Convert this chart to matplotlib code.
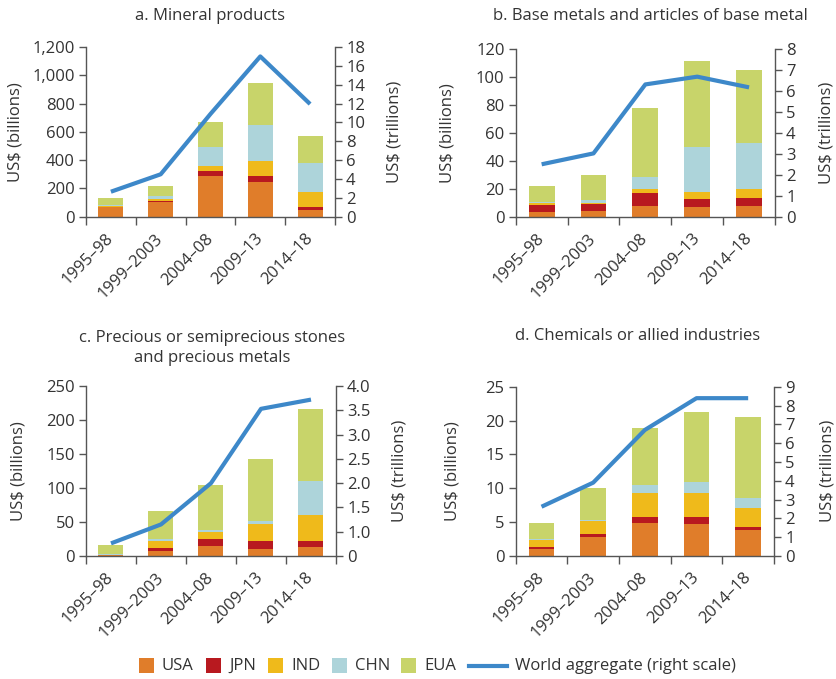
import matplotlib
matplotlib.use("Agg")
import matplotlib.pyplot as plt
from matplotlib.patches import Rectangle
from matplotlib.lines import Line2D
from matplotlib.ticker import FuncFormatter, FixedLocator, FixedFormatter
import numpy as np

plt.rcParams["font.family"] = ["Open Sans", "DejaVu Sans"]
TEXT = "#333333"
SPINE = "#555555"
FS = 12

periods = ["1995–98", "1999–2003", "2004–08", "2009–13", "2014–18"]
economies = ["USA", "JPN", "IND", "CHN", "EUA"]
colors = ["#E07D2A", "#B8191F", "#EFBA1B", "#ADD4DA", "#C8D46A"]
world_color = "#3D88C9"

# a. Mineral products (US$ billions; world in US$ trillions)
mineral_usa = [68, 101, 288, 245, 47]
mineral_jpn = [2, 7, 35, 43, 21]
mineral_ind = [6, 17, 38, 106, 106]
mineral_chn = [4, 24, 132, 254, 206]
mineral_eua = [52, 68, 177, 297, 190]
mineral_world = [2.65, 4.5, 10.9, 17.0, 11.95]

# b. Base metals and articles of base metal
metals_usa = [3.3, 4.1, 7.6, 6.9, 7.6]
metals_jpn = [5.0, 5.0, 9.3, 5.7, 5.8]
metals_ind = [1.2, 0.7, 2.9, 5.1, 6.4]
metals_chn = [1.2, 2.4, 8.6, 32.4, 32.9]
metals_eua = [11.3, 17.6, 49.4, 61.3, 52.3]
metals_world = [2.5, 3.02, 6.31, 6.68, 6.17]

# c. Precious or semiprecious stones and precious metals
stones_usa = [0.8, 7.4, 14.7, 10.3, 13.2]
stones_jpn = [0.3, 4.4, 10.3, 11.7, 8.8]
stones_ind = [0.6, 10.2, 10.3, 25.0, 38.3]
stones_chn = [1.3, 3.0, 2.9, 4.5, 49.5]
stones_eua = [13.2, 41.2, 66.2, 91.1, 106.4]
stones_world = [0.76, 1.15, 2.0, 3.53, 3.72]

# d. Chemicals or allied industries
chem_usa = [1.03, 2.8, 4.87, 4.72, 3.84]
chem_jpn = [0.3, 0.45, 0.89, 1.04, 0.44]
chem_ind = [1.08, 1.95, 3.54, 3.54, 2.81]
chem_chn = [0.1, 0.16, 1.18, 1.63, 1.47]
chem_eua = [2.37, 4.68, 8.42, 10.33, 11.96]
chem_world = [2.62, 3.9, 6.7, 8.39, 8.39]

W, H = 837, 679
fig = plt.figure(figsize=(W / 100, H / 100), dpi=100)


def px_rect(left, top, right, bottom):
    return [left / W, 1 - bottom / H, (right - left) / W, (bottom - top) / H]


def panel(rect, stacks, world, ylim, yticks, rlim, rticks, rlabels=None, comma=False):
    ax = fig.add_axes(rect)
    x = np.arange(len(periods))
    bottom = np.zeros(len(periods))
    for vals, c in zip(stacks, colors):
        vals = np.asarray(vals, dtype=float)
        ax.bar(x, vals, width=0.5, bottom=bottom, color=c, linewidth=0, zorder=2)
        bottom += vals
    ax.set_xlim(-0.5, len(periods) - 0.5)
    ax.set_ylim(*ylim)
    ax.set_yticks(yticks)
    if comma:
        ax.yaxis.set_major_formatter(FuncFormatter(lambda v, p: f"{int(v):,}"))
    ax.set_xticks(x)
    ax.set_xticklabels(periods, rotation=45, ha="right", va="center",
                       rotation_mode="anchor", fontsize=FS, color=TEXT)
    ax.tick_params(axis="x", which="major", length=0, pad=14)
    ax.set_xticks(np.arange(-0.5, len(periods)), minor=True)
    ax.tick_params(axis="x", which="minor", length=6, width=1, color=SPINE, direction="out")
    ax.tick_params(axis="y", length=5, width=1, color=SPINE, labelsize=FS,
                   labelcolor=TEXT, pad=3)
    for s in ["top", "right"]:
        ax.spines[s].set_visible(False)
    for s in ["left", "bottom"]:
        ax.spines[s].set_color(SPINE)
        ax.spines[s].set_linewidth(1)

    ax2 = ax.twinx()
    ax2.plot(x, world, color=world_color, lw=3, solid_capstyle="butt", zorder=3)
    ax2.set_ylim(*rlim)
    ax2.yaxis.set_major_locator(FixedLocator(rticks))
    if rlabels is not None:
        ax2.yaxis.set_major_formatter(FixedFormatter(rlabels))
    ax2.tick_params(axis="y", length=5, width=1, color=SPINE, labelsize=FS,
                    labelcolor=TEXT, pad=3)
    for s in ["top", "left", "bottom"]:
        ax2.spines[s].set_visible(False)
    ax2.spines["right"].set_color(SPINE)
    ax2.spines["right"].set_linewidth(1)
    return ax, ax2


panel(px_rect(86, 47, 335, 216.7),
      [mineral_usa, mineral_jpn, mineral_ind, mineral_chn, mineral_eua], mineral_world,
      (0, 1200), range(0, 1201, 200), (0, 18), range(0, 19, 2), comma=True)
panel(px_rect(515.7, 49, 775, 216.7),
      [metals_usa, metals_jpn, metals_ind, metals_chn, metals_eua], metals_world,
      (0, 120), range(0, 121, 20), (0, 8), range(0, 9, 1))
panel(px_rect(86, 386, 336, 556),
      [stones_usa, stones_jpn, stones_ind, stones_chn, stones_eua], stones_world,
      (0, 250), range(0, 251, 50), (0.5, 4.0), list(np.arange(0.5, 4.01, 0.5)),
      rlabels=["0", "1.0", "1.5", "2.0", "2.5", "3.0", "3.5", "4.0"])
panel(px_rect(515.7, 386.7, 774, 556),
      [chem_usa, chem_jpn, chem_ind, chem_chn, chem_eua], chem_world,
      (0, 25), range(0, 26, 5), (0, 9), range(0, 10, 1))

# Panel titles
def ftext(xp, yp, s, **kw):
    fig.text(xp / W, 1 - yp / H, s, color=TEXT, fontsize=FS, ha="center", va="center", **kw)

ftext(210, 16, "a. Mineral products")
ftext(650, 16, "b. Base metals and articles of base metal")
ftext(212, 348, "c. Precious or semiprecious stones\nand precious metals", linespacing=1.35)
ftext(638, 336, "d. Chemicals or allied industries")

# Axis titles
for xl, xr, yc in [(16, 395, 132), (448, 827, 133), (19, 400, 471), (453, 828, 471)]:
    ftext(xl, yc, "US$ (billions)", rotation=90)
    ftext(xr, yc, "US$ (trillions)", rotation=90)

# Legend
patch_x = [139, 206, 268, 332, 401]
for px0, name, c in zip(patch_x, economies, colors):
    fig.add_artist(Rectangle((px0 / W, 1 - 673 / H), 15 / W, 15 / H,
                             transform=fig.transFigure, color=c, lw=0))
    fig.text((px0 + 23) / W, 1 - 666 / H, name, color=TEXT, fontsize=FS,
             ha="left", va="center")
fig.add_artist(Line2D([469 / W, 507 / W], [1 - 666 / H, 1 - 666 / H],
                      transform=fig.transFigure, color=world_color, lw=3))
fig.text(515 / W, 1 - 666 / H, "World aggregate (right scale)", color=TEXT,
         fontsize=FS, ha="left", va="center")

fig.savefig("out.png", dpi=100)
